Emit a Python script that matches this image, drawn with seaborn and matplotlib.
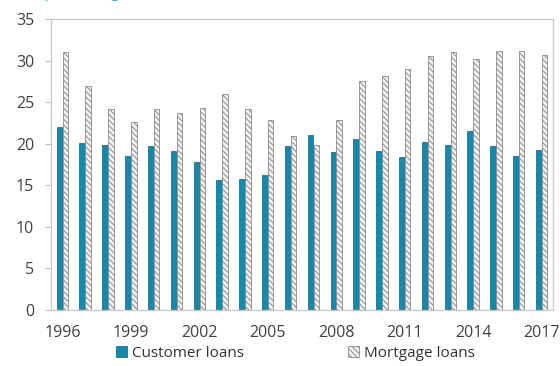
import matplotlib
matplotlib.use("Agg")
import matplotlib.pyplot as plt
import seaborn as sns
import pandas as pd
import numpy as np

years = list(range(1996, 2018))
customer_loans = [22.0, 20.1, 19.8, 18.5, 19.7, 19.1, 17.8, 15.6, 15.7, 16.2, 19.7,
                  21.0, 19.0, 20.6, 19.1, 18.4, 20.2, 19.8, 21.5, 19.7, 18.5, 19.3]
mortgage_loans = [31.0, 26.9, 24.2, 22.6, 24.2, 23.7, 24.3, 26.0, 24.2, 22.8, 20.9,
                  19.8, 22.8, 27.5, 28.2, 29.0, 30.5, 31.0, 30.2, 31.1, 31.2, 30.7]
series_names = ["Customer loans", "Mortgage loans"]
yticks = [0, 5, 10, 15, 20, 25, 30, 35]
title = "(The percentage of assets)"

df = pd.DataFrame({
    "year": [str(y) for y in years] * 2,
    "value": customer_loans + mortgage_loans,
    "series": [series_names[0]] * len(years) + [series_names[1]] * len(years),
})

sns.set_style("white")
plt.rcParams['font.family'] = ['Open Sans', 'DejaVu Sans']
plt.rcParams['hatch.linewidth'] = 0.7

fig = plt.figure(figsize=(5.6, 3.66), dpi=100)
ax = fig.add_axes([0.091, 0.153, 0.8965, 0.795])

sns.barplot(data=df, x="year", y="value", hue="series",
            palette=["#1389ad", "#f2f2f2"], width=0.52, gap=0.08,
            ax=ax, legend=False, saturation=1)

bars_c = ax.containers[0]
bars_m = ax.containers[1]
for p in bars_c:
    p.set_edgecolor("#0b5f7a")
    p.set_linewidth(0.5)
for p in bars_m:
    p.set_facecolor("#f2f2f2")
    p.set_edgecolor("#8a8a8a")
    p.set_hatch("\\\\\\\\\\\\")
    p.set_linewidth(0.6)

ax.set_ylim(0, 35)
ax.set_xlim(-0.5, len(years) - 0.5)
ax.set_yticks(yticks)
ax.set_xticks(range(0, len(years), 3))
ax.set_xticklabels([str(years[i]) for i in range(0, len(years), 3)])
ax.set_xticks(np.arange(2.5, len(years) - 0.5, 3), minor=True)
ax.tick_params(axis="x", which="major", length=0, pad=11, labelsize=11.5, colors="#404040")
ax.tick_params(axis="x", which="minor", length=5, direction="in", color="#bfbfbf", width=0.8)
ax.tick_params(axis="y", which="major", length=4, direction="out",
               width=0.8, labelsize=11.5, pad=8, left=True)
ax.tick_params(axis="y", labelcolor="#404040", color="#bfbfbf")
ax.set_xlabel("")
ax.set_ylabel("")

for s in ax.spines.values():
    s.set_visible(True)
    s.set_color("#c8c8c8")
    s.set_linewidth(0.9)

leg = fig.legend(handles=[bars_c[0], bars_m[0]], labels=series_names,
                 loc="center", bbox_to_anchor=(0.527, 0.035), ncol=2, frameon=False,
                 fontsize=11, handlelength=0.75, handleheight=0.75, handletextpad=0.3,
                 columnspacing=6.8, labelcolor="#333333", borderpad=0)

fig.text(0.015, 1.018, title, color="#2a9fd8", fontsize=11.5, ha="left", va="center")

fig.savefig("out.png", dpi=100)
